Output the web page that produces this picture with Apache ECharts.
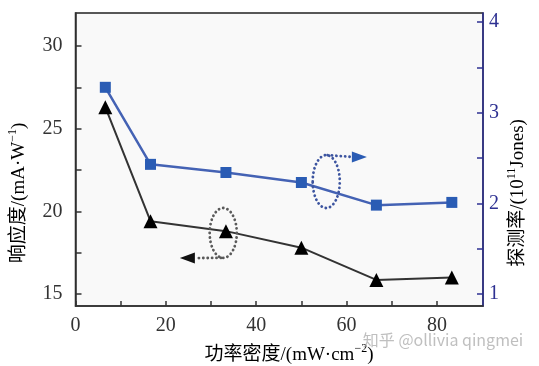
<!DOCTYPE html>
<html><head><meta charset="utf-8">
<script src="https://cdn.jsdelivr.net/npm/echarts@6/dist/echarts.min.js"></script>
<style>html,body{margin:0;padding:0;background:#fff}#c{width:539px;height:366px}</style>
</head><body><div id="c"></div>
<script>
// ---- data ----
const powerDensity = [6.6, 16.6, 33.3, 50.0, 66.6, 83.3];
const responsivity = [26.3, 19.4, 18.8, 17.8, 15.85, 16.0];
const detectivity = [3.28, 2.43, 2.34, 2.23, 1.98, 2.01];
const xLabels = [0, 20, 40, 60, 80];
const xTickVals = [0, 10, 20, 30, 40, 50, 60, 70, 80];
const leftLabels = [15, 20, 25, 30];
const leftTickVals = [15, 17.5, 20, 22.5, 25, 27.5, 30];
const rightLabels = [1, 2, 3, 4];
const rightTickVals = [1, 1.5, 2, 2.5, 3, 3.5, 4];

const SERIF = '"Liberation Serif","Noto Sans CJK SC",serif';
const NAVY = '#2e3192';
const DARK = '#333333';

const chart = echarts.init(document.getElementById('c'), null, {renderer: 'canvas'});

const respData = powerDensity.map((x, i) => [x, responsivity[i]]);
const detData = powerDensity.map((x, i) => [x, detectivity[i]]);

chart.setOption({
  animation: false,
  backgroundColor: '#ffffff',
  grid: {left: 75.5, right: 56, top: 13, bottom: 60, show: true,
         backgroundColor: '#f9f9f9', borderColor: '#222', borderWidth: 1.5},
  xAxis: {
    type: 'value', min: 0, max: 90.2,
    axisLine: {show: true, lineStyle: {color: DARK, width: 1.5}},
    axisTick: {show: true, inside: true, length: 5, customValues: xTickVals, lineStyle: {color: DARK, width: 1.5}},
    axisLabel: {customValues: xLabels, color: DARK, fontFamily: SERIF, fontSize: 20, margin: 10},
    splitLine: {show: false}
  },
  yAxis: [{
    type: 'value', min: 14.27, max: 32.0, position: 'left',
    axisLine: {show: true, lineStyle: {color: DARK, width: 1.5}},
    axisTick: {show: true, inside: true, length: 6, customValues: leftTickVals, lineStyle: {color: DARK, width: 1.5}},
    axisLabel: {customValues: leftLabels, color: DARK, fontFamily: SERIF, fontSize: 20, margin: 13},
    splitLine: {show: false}
  }, {
    type: 'value', min: 0.867, max: 4.1, position: 'right',
    axisLine: {show: true, lineStyle: {color: NAVY, width: 1.5}},
    axisTick: {show: true, inside: true, length: 6, customValues: rightTickVals, lineStyle: {color: NAVY, width: 1.5}},
    axisLabel: {customValues: rightLabels, color: NAVY, fontFamily: SERIF, fontSize: 20, margin: 6},
    splitLine: {show: false}
  }],
  series: [{
    type: 'line', yAxisIndex: 0, data: respData,
    symbol: 'triangle', symbolSize: 14,
    lineStyle: {color: '#333', width: 2},
    itemStyle: {color: '#000'}
  }, {
    type: 'line', yAxisIndex: 1, data: detData,
    symbol: 'rect', symbolSize: 11,
    lineStyle: {color: '#4462b4', width: 2.5},
    itemStyle: {color: '#2a5cb4'}
  }]
});

// annotations positioned in data coordinates (left axis)
function px(p) { return chart.convertToPixel({xAxisIndex: 0, yAxisIndex: 0}, p); }
const DOT = {lineWidth: 2.8, lineDash: [0.1, 4.3], lineCap: 'round'};
function ellipse(c, rx, ry, color) {
  const a = px(c), b = px([c[0] + rx, c[1] + ry]);
  return {type: 'ellipse', shape: {cx: a[0], cy: a[1], rx: Math.abs(b[0] - a[0]), ry: Math.abs(a[1] - b[1])},
          style: Object.assign({fill: 'none', stroke: color}, DOT), z: 50};
}
function arrow(from, tip, color, dotColor) {
  const a = px(from), t = px(tip);
  const dir = Math.sign(t[0] - a[0]);
  const base = t[0] - dir * 15;
  return [
    {type: 'line', shape: {x1: a[0], y1: a[1], x2: base, y2: t[1]},
     style: Object.assign({stroke: dotColor}, DOT), z: 50},
    {type: 'polygon', shape: {points: [[base, t[1] - 5.5], [t[0], t[1]], [base, t[1] + 5.5]]},
     style: {fill: color}, z: 50}
  ];
}
const blueC = [55.5, 21.8], blackC = [32.7, 18.69];
const g = [];
g.push(ellipse(blueC, 3.0, 1.6, '#3d55a0'));
g.push(...arrow([55.8, 21.8 + 1.6], [64.5, 23.29], '#2a5cb4', '#3d55a0'));
g.push(ellipse(blackC, 3.0, 1.51, '#5a5a5a'));
g.push(...arrow([32.2, 18.69 - 1.51], [23.1, 17.17], '#111', '#5a5a5a'));

const sup = {fontFamily: SERIF, fontSize: 12, verticalAlign: 'top', lineHeight: 24};
g.push({type: 'text', x: 19, y: 193, rotation: Math.PI / 2, z: 60,
  style: {text: '{a|响应度/(mA·W}{s|−1}{a|)}', align: 'center', verticalAlign: 'middle',
    rich: {a: {fontFamily: SERIF, fontSize: 19, color: DARK, lineHeight: 24}, s: Object.assign({color: DARK}, sup)}}});
g.push({type: 'text', x: 518, y: 193, rotation: Math.PI / 2, z: 60,
  style: {text: '{a|探测率/(10}{s|11}{a|Jones)}', align: 'center', verticalAlign: 'middle',
    rich: {a: {fontFamily: SERIF, fontSize: 19, color: NAVY, lineHeight: 24}, s: Object.assign({color: NAVY}, sup)}}});
g.push({type: 'text', x: 289, y: 355, z: 60,
  style: {text: '{a|功率密度/(mW·cm}{s|−2}{a|)}', align: 'center', verticalAlign: 'middle',
    rich: {a: {fontFamily: SERIF, fontSize: 19, color: DARK, lineHeight: 24}, s: Object.assign({color: DARK}, sup)}}});
g.push({type: 'text', x: 443, y: 340, z: 70,
  style: {text: '知乎 @ollivia qingmei', align: 'center', verticalAlign: 'middle',
    fill: 'rgba(170,170,170,0.75)', font: '16px "Noto Sans CJK SC", sans-serif'}});
chart.setOption({graphic: g});
</script></body></html>
